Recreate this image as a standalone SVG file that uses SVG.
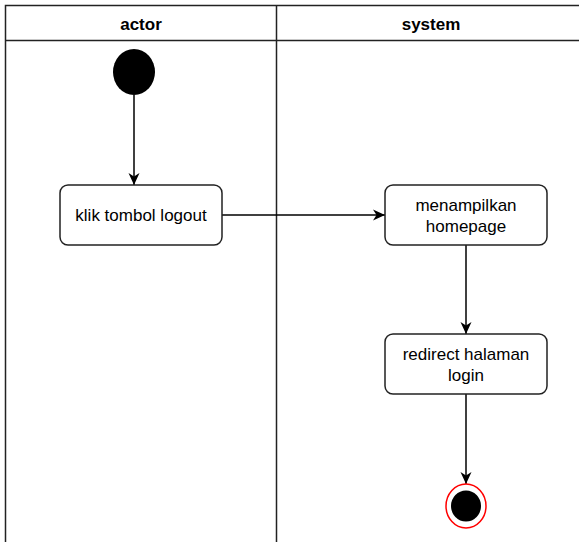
<svg xmlns="http://www.w3.org/2000/svg" width="579" height="542" viewBox="0 0 579 542">
  <style>
    .lane { fill: none; stroke: #222; stroke-width: 1.5; }
    .hdr { font-family: "Liberation Sans", Arial, sans-serif; font-size: 17px; font-weight: bold; fill: #000; text-anchor: middle; }
    .box { fill: #fff; stroke: #222; stroke-width: 1.5; }
    .lbl { font-family: "Liberation Sans", Arial, sans-serif; font-size: 17px; fill: #000; text-anchor: middle; }
    .edge { fill: none; stroke: #000; stroke-width: 1.5; }
  </style>
  <defs>
    <marker id="arrow" markerUnits="userSpaceOnUse" markerWidth="13" markerHeight="12" refX="12" refY="6" orient="auto">
      <path d="M0,0.5 L12,6 L0,11.5 L3.5,6 Z" fill="#000"/>
    </marker>
  </defs>
  <rect width="579" height="542" fill="#fff"/>

  <!-- swimlanes -->
  <g id="lanes">
    <rect class="lane" x="5.5" y="5.5" width="580" height="545"/>
    <line class="lane" x1="5.5" y1="40.5" x2="585" y2="40.5"/>
    <line class="lane" x1="276.5" y1="5.5" x2="276.5" y2="550"/>
    <text class="hdr" x="141" y="30">actor</text>
    <text class="hdr" x="431" y="30">system</text>
  </g>

  <!-- connectors -->
  <g id="connectors">
    <line class="edge" x1="134" y1="95" x2="134" y2="185" marker-end="url(#arrow)"/>
    <line class="edge" x1="222" y1="215" x2="385" y2="215" marker-end="url(#arrow)"/>
    <line class="edge" x1="466" y1="245" x2="466" y2="334" marker-end="url(#arrow)"/>
    <line class="edge" x1="466" y1="394" x2="466" y2="484" marker-end="url(#arrow)"/>
  </g>

  <g id="start">
    <ellipse cx="134" cy="72" rx="21" ry="23" fill="#000"/>
  </g>

  <g id="klik-tombol-logout">
    <rect class="box" x="60" y="185" width="162" height="60" rx="8"/>
    <text class="lbl" x="141" y="220.5">klik tombol logout</text>
  </g>

  <g id="menampilkan-homepage">
    <rect class="box" x="385" y="185" width="162" height="60" rx="8"/>
    <text class="lbl" x="466" y="210.5">menampilkan</text>
    <text class="lbl" x="466" y="232">homepage</text>
  </g>

  <g id="redirect-halaman-login">
    <rect class="box" x="385" y="334" width="162" height="60" rx="8"/>
    <text class="lbl" x="466" y="359.5">redirect halaman</text>
    <text class="lbl" x="466" y="381">login</text>
  </g>

  <g id="end">
    <ellipse cx="466" cy="506" rx="20" ry="22" fill="#fff" stroke="#f00" stroke-width="1.5"/>
    <ellipse cx="466" cy="506" rx="15" ry="15.5" fill="#000"/>
  </g>
</svg>
